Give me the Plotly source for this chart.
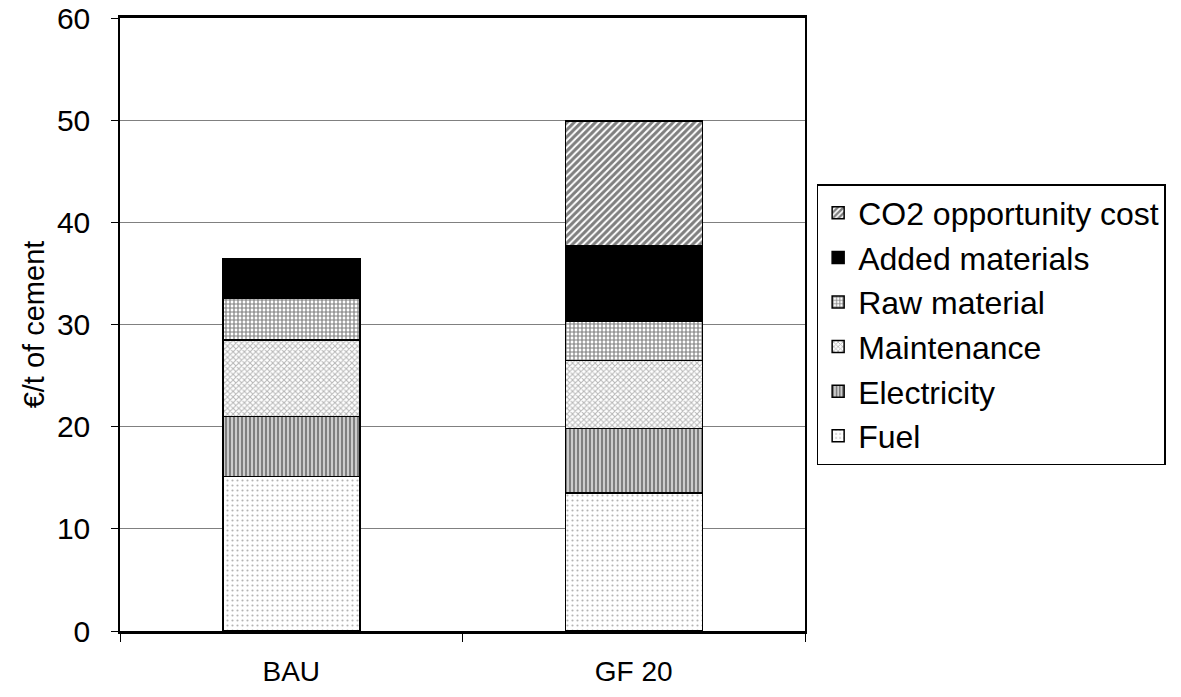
import plotly.graph_objects as go

categories = ["BAU", "GF 20"]
fuel = [15.1, 13.5]
electricity = [5.9, 6.3]
maintenance = [7.5, 6.7]
raw_material = [4.1, 3.8]
added_materials = [3.8, 7.4]
co2_cost = [0.0, 12.2]

y_ticks = [0, 10, 20, 30, 40, 50, 60]

FONT = "Liberation Sans, Arial, sans-serif"
outline = dict(color="black", width=1.5)

series = [
    ("Fuel", fuel, dict(shape=".", fgcolor="#6a6a6a", bgcolor="white", size=5, solidity=0.15)),
    ("Electricity", electricity, dict(shape="|", fgcolor="black", bgcolor="white", size=4, solidity=0.7)),
    ("Maintenance", maintenance, dict(shape="x", fgcolor="#6e6e6e", bgcolor="white", size=4, solidity=0.45)),
    ("Raw material", raw_material, dict(shape="+", fgcolor="black", bgcolor="white", size=4, solidity=0.5)),
    ("Added materials", added_materials, None),
    ("CO2 opportunity cost", co2_cost, dict(shape="/", fgcolor="black", bgcolor="white", size=5, solidity=0.6)),
]

fig = go.Figure()
for name, vals, pat in series:
    marker = dict(line=outline)
    if pat is None:
        marker["color"] = "black"
    else:
        marker["color"] = "white"
        marker["pattern"] = pat
    fig.add_trace(go.Bar(name=name, x=categories, y=vals, marker=marker, width=0.4))

fig.update_layout(
    barmode="stack",
    width=1181,
    height=697,
    paper_bgcolor="white",
    plot_bgcolor="white",
    font=dict(family=FONT, size=29, color="black"),
    margin=dict(l=120, r=376, t=18, b=66),
    legend=dict(
        traceorder="reversed",
        x=1.017, xanchor="left",
        y=0.5, yanchor="middle",
        bordercolor="black", borderwidth=1.5,
        font=dict(size=32),
        tracegroupgap=0,
        itemwidth=30,
    ),
    showlegend=True,
)

fig.update_xaxes(
    showline=True, linecolor="black", linewidth=2.5, mirror=True,
    ticks="outside", tickson="boundaries", ticklen=8, tickcolor="black",
    ticklabelstandoff=14,
    tickfont=dict(size=28),
    automargin=False,
)
fig.update_yaxes(
    range=[0, 60], tickvals=y_ticks,
    showline=True, linecolor="black", linewidth=1.5, mirror=True,
    ticks="outside", ticklen=7, tickcolor="black",
    showgrid=True, gridcolor="#808080", gridwidth=1,
    zeroline=False,
    ticklabelstandoff=15,
    ticklabeloverflow="allow",
    tickfont=dict(size=30),
    title=dict(text="€/t of cement", font=dict(size=29), standoff=4),
    automargin=False,
)

fig.write_html(
    "out.html",
    config={"displayModeBar": False},
    post_script="document.body.style.margin='0';document.body.style.overflow='hidden';",
)
